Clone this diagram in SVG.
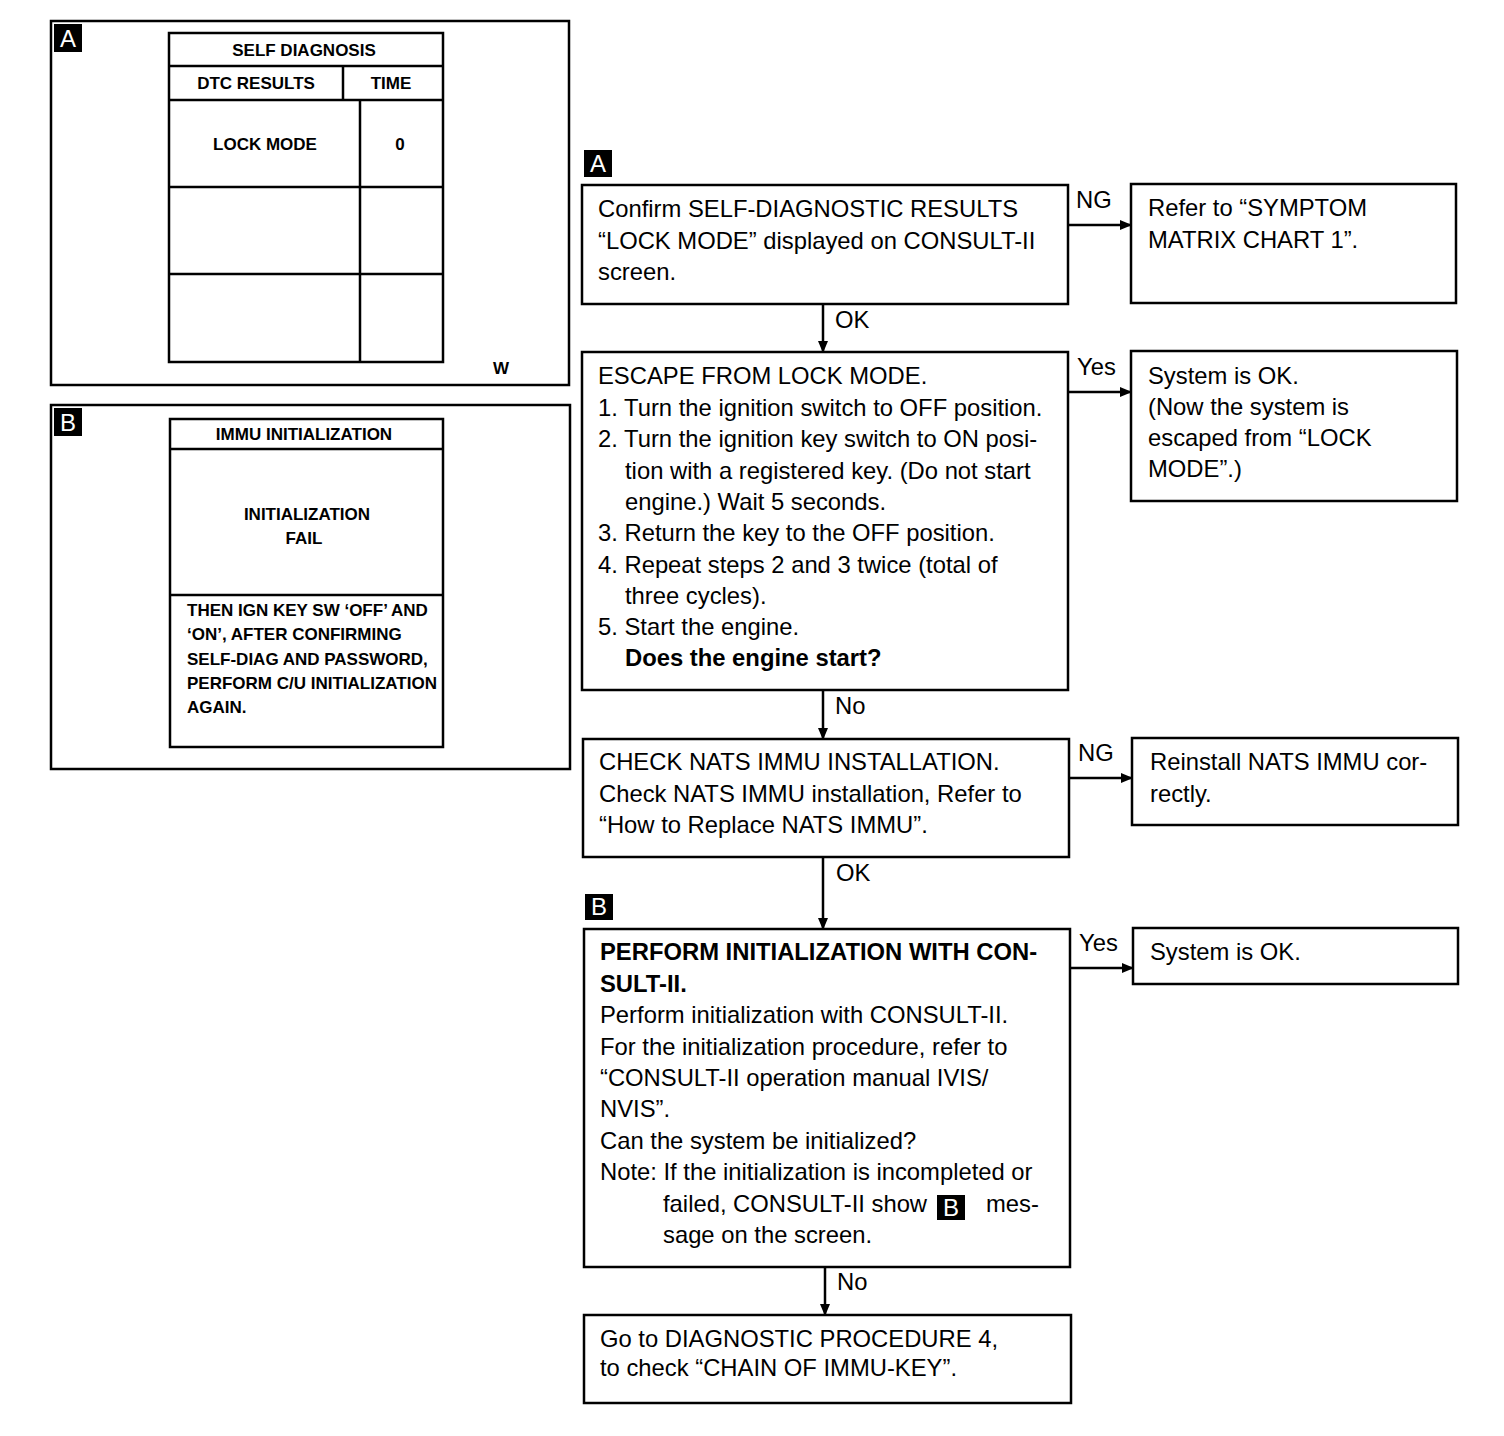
<svg xmlns="http://www.w3.org/2000/svg" width="1504" height="1436" viewBox="0 0 1504 1436">
<defs>
<marker id="ah" markerWidth="12" markerHeight="10" refX="11" refY="5" orient="auto" markerUnits="userSpaceOnUse">
<path d="M0,0 L12,5 L0,10 Z" fill="#000"/>
</marker>
<style>
.bx{fill:#fff;stroke:#000;stroke-width:2.5}
.ln{stroke:#000;stroke-width:2.5;fill:none}
.cn{stroke:#000;stroke-width:2.5;fill:none;marker-end:url(#ah)}
.t{font-family:"Liberation Sans",Arial,sans-serif;font-size:23.8px;fill:#000}
.tb{font-weight:bold}
.s{font-family:"Liberation Sans",Arial,sans-serif;font-size:17px;font-weight:bold;fill:#000}
.bd{fill:#000}
.bl{font-family:"Liberation Sans",Arial,sans-serif;font-size:24px;fill:#fff;text-anchor:middle}
.m{text-anchor:middle}
</style>
</defs>
<rect width="1504" height="1436" fill="#fff"/>

<g id="panelA">
<rect class="bx" x="51" y="21" width="518" height="364"/>
<rect class="bd" x="54" y="24" width="28" height="28"/>
<text class="bl" x="68" y="47">A</text>
<rect class="bx" x="169" y="33" width="274" height="329"/>
<line class="ln" x1="169" y1="66" x2="443" y2="66"/>
<line class="ln" x1="169" y1="100" x2="443" y2="100"/>
<line class="ln" x1="343" y1="66" x2="343" y2="100"/>
<line class="ln" x1="360" y1="100" x2="360" y2="362"/>
<line class="ln" x1="169" y1="187" x2="443" y2="187"/>
<line class="ln" x1="169" y1="274" x2="443" y2="274"/>
<text class="s m" x="304" y="56">SELF DIAGNOSIS</text>
<text class="s m" x="256" y="89">DTC RESULTS</text>
<text class="s m" x="391" y="89">TIME</text>
<text class="s m" x="265" y="150">LOCK MODE</text>
<text class="s m" x="400" y="150">0</text>
<text class="s m" x="501" y="374">W</text>
</g>

<g id="panelB">
<rect class="bx" x="51" y="405" width="519" height="364"/>
<rect class="bd" x="54" y="408" width="28" height="28"/>
<text class="bl" x="68" y="431">B</text>
<rect class="bx" x="170" y="419" width="273" height="328"/>
<line class="ln" x1="170" y1="449" x2="443" y2="449"/>
<line class="ln" x1="170" y1="595" x2="443" y2="595"/>
<text class="s m" x="304" y="440">IMMU INITIALIZATION</text>
<text class="s m" x="307" y="520">INITIALIZATION</text>
<text class="s m" x="304" y="544">FAIL</text>
<text class="s" x="187" y="616">THEN IGN KEY SW ‘OFF’ AND</text>
<text class="s" x="187" y="640">‘ON’, AFTER CONFIRMING</text>
<text class="s" x="187" y="665">SELF-DIAG AND PASSWORD,</text>
<text class="s" x="187" y="689">PERFORM C/U INITIALIZATION</text>
<text class="s" x="187" y="713">AGAIN.</text>
</g>

<g id="badgeA">
<rect class="bd" x="584" y="150" width="28" height="27"/>
<text class="bl" x="598" y="172">A</text>
</g>

<g id="n1">
<rect class="bx" x="582" y="185" width="486" height="119"/>
<text class="t" x="598" y="217">Confirm SELF-DIAGNOSTIC RESULTS</text>
<text class="t" x="598" y="249">“LOCK MODE” displayed on CONSULT-II</text>
<text class="t" x="598" y="280">screen.</text>
</g>

<g id="n2">
<rect class="bx" x="1131" y="184" width="325" height="119"/>
<text class="t" x="1148" y="216">Refer to “SYMPTOM</text>
<text class="t" x="1148" y="248">MATRIX CHART 1”.</text>
</g>

<g id="n3">
<rect class="bx" x="582" y="352" width="486" height="338"/>
<text class="t" x="598" y="384">ESCAPE FROM LOCK MODE.</text>
<text class="t" x="598" y="416">1. Turn the ignition switch to OFF position.</text>
<text class="t" x="598" y="447">2. Turn the ignition key switch to ON posi-</text>
<text class="t" x="625" y="479">tion with a registered key. (Do not start</text>
<text class="t" x="625" y="510">engine.) Wait 5 seconds.</text>
<text class="t" x="598" y="541">3. Return the key to the OFF position.</text>
<text class="t" x="598" y="573">4. Repeat steps 2 and 3 twice (total of</text>
<text class="t" x="625" y="604">three cycles).</text>
<text class="t" x="598" y="635">5. Start the engine.</text>
<text class="t tb" x="625" y="666">Does the engine start?</text>
</g>

<g id="n4">
<rect class="bx" x="1131" y="351" width="326" height="150"/>
<text class="t" x="1148" y="384">System is OK.</text>
<text class="t" x="1148" y="415">(Now the system is</text>
<text class="t" x="1148" y="446">escaped from “LOCK</text>
<text class="t" x="1148" y="477">MODE”.)</text>
</g>

<g id="n5">
<rect class="bx" x="583" y="739" width="486" height="118"/>
<text class="t" x="599" y="770">CHECK NATS IMMU INSTALLATION.</text>
<text class="t" x="599" y="802">Check NATS IMMU installation, Refer to</text>
<text class="t" x="599" y="833">“How to Replace NATS IMMU”.</text>
</g>

<g id="n6">
<rect class="bx" x="1132" y="738" width="326" height="87"/>
<text class="t" x="1150" y="770">Reinstall NATS IMMU cor-</text>
<text class="t" x="1150" y="802">rectly.</text>
</g>

<g id="badgeB">
<rect class="bd" x="585" y="894" width="28" height="26"/>
<text class="bl" x="599" y="915">B</text>
</g>

<g id="n7">
<rect class="bx" x="584" y="929" width="486" height="338"/>
<text class="t tb" x="600" y="960">PERFORM INITIALIZATION WITH CON-</text>
<text class="t tb" x="600" y="992">SULT-II.</text>
<text class="t" x="600" y="1023">Perform initialization with CONSULT-II.</text>
<text class="t" x="600" y="1055">For the initialization procedure, refer to</text>
<text class="t" x="600" y="1086">“CONSULT-II operation manual IVIS/</text>
<text class="t" x="600" y="1117">NVIS”.</text>
<text class="t" x="600" y="1149">Can the system be initialized?</text>
<text class="t" x="600" y="1180">Note: If the initialization is incompleted or</text>
<text class="t" x="663" y="1212">failed, CONSULT-II show</text>
<rect class="bd" x="937" y="1195" width="28" height="25"/>
<text class="bl" x="951" y="1216">B</text>
<text class="t" x="986" y="1212">mes-</text>
<text class="t" x="663" y="1243">sage on the screen.</text>
</g>

<g id="n8">
<rect class="bx" x="1133" y="928" width="325" height="56"/>
<text class="t" x="1150" y="960">System is OK.</text>
</g>

<g id="n9">
<rect class="bx" x="584" y="1315" width="487" height="88"/>
<text class="t" x="600" y="1347">Go to DIAGNOSTIC PROCEDURE 4,</text>
<text class="t" x="600" y="1376">to check “CHAIN OF IMMU-KEY”.</text>
</g>

<g id="connectors">
<line class="cn" x1="1068" y1="225" x2="1131" y2="225"/>
<line class="cn" x1="823" y1="304" x2="823" y2="352"/>
<line class="cn" x1="1068" y1="392" x2="1131" y2="392"/>
<line class="cn" x1="823" y1="690" x2="823" y2="739"/>
<line class="cn" x1="1069" y1="778" x2="1132" y2="778"/>
<line class="cn" x1="823" y1="857" x2="823" y2="929"/>
<line class="cn" x1="1070" y1="968" x2="1133" y2="968"/>
<line class="cn" x1="825" y1="1267" x2="825" y2="1315"/>
<text class="t" x="1076" y="208">NG</text>
<text class="t" x="835" y="328">OK</text>
<text class="t" x="1077" y="375">Yes</text>
<text class="t" x="835" y="714">No</text>
<text class="t" x="1078" y="761">NG</text>
<text class="t" x="836" y="881">OK</text>
<text class="t" x="1079" y="951">Yes</text>
<text class="t" x="837" y="1290">No</text>
</g>
</svg>
